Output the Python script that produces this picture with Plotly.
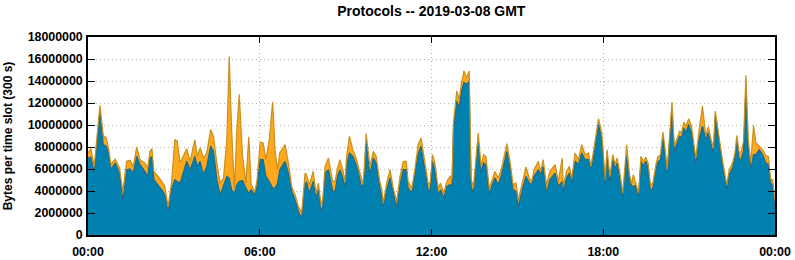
import pandas as pd
import plotly.graph_objects as go

# minutes after 2019-03-08 00:00 GMT
minutes = [0, 6, 13, 25, 32, 38, 43, 48, 57, 66, 73, 81, 88, 95, 102, 109, 119, 125, 130, 134,
           138, 147, 157, 161, 168, 175, 182, 187, 193, 207, 214, 224, 229, 235, 242, 249, 257, 263, 270, 277,
           284, 291, 296, 301, 307, 312, 317, 324, 331, 337, 342, 350, 354, 361, 367, 373, 380, 387, 392, 397,
           402, 413, 420, 427, 434, 441, 448, 455, 458, 464, 472, 478, 483, 488, 492, 497, 504, 513, 518, 523,
           528, 534, 539, 542, 548, 555, 562, 567, 572, 576, 579, 583, 588, 591, 598, 604, 611, 616, 619, 626,
           633, 640, 647, 654, 661, 667, 671, 679, 685, 692, 698, 706, 713, 717, 722, 727, 734, 739, 746, 752,
           759, 763, 766, 773, 778, 783, 788, 794, 799, 803, 808, 813, 818, 824, 829, 834, 841, 846, 853, 860,
           867, 878, 885, 891, 897, 902, 909, 911, 918, 925, 930, 935, 944, 949, 954, 961, 968, 979, 986, 994,
           996, 1003, 1009, 1014, 1021, 1028, 1035, 1042, 1049, 1054, 1059, 1070, 1077, 1084, 1088, 1094, 1100, 1105, 1109, 1115,
           1121, 1129, 1135, 1140, 1143, 1147, 1154, 1159, 1164, 1169, 1174, 1179, 1184, 1191, 1195, 1200, 1205, 1209, 1214, 1220,
           1224, 1229, 1234, 1240, 1244, 1249, 1253, 1259, 1265, 1274, 1281, 1288, 1295, 1300, 1306, 1311, 1315, 1319, 1325, 1332,
           1339, 1344, 1351, 1356, 1360, 1365, 1369, 1374, 1379, 1384, 1389, 1395, 1400, 1407, 1414, 1421, 1426, 1431, 1435, 1440]

# total (top of stack), millions of bytes
total_m = [7.47, 7.86, 6.24, 11.79, 9.05, 8.83, 7.92, 6.40, 6.90, 6.09, 3.96, 6.70, 6.79, 6.24, 8.00, 6.85, 6.55, 6.09, 7.61, 7.86,
           5.78, 5.33, 4.72, 4.42, 2.59, 4.72, 8.68, 8.53, 6.55, 7.83, 6.70, 8.68, 7.15, 7.92, 7.00, 7.46, 9.59, 8.98, 6.55, 4.72,
           5.18, 8.68, 16.23, 9.59, 4.11, 9.59, 12.79, 7.15, 4.72, 8.92, 4.57, 3.96, 4.87, 8.44, 8.37, 6.85, 8.68, 12.12, 7.76, 5.94,
           7.46, 8.22, 6.55, 4.42, 3.65, 2.59, 2.04, 5.63, 5.50, 4.57, 5.78, 3.80, 4.72, 2.89, 3.20, 6.24, 7.00, 4.87, 4.87, 6.09,
           6.85, 5.94, 4.87, 7.15, 8.98, 7.76, 7.00, 6.24, 5.33, 4.57, 5.94, 9.23, 7.30, 6.24, 7.61, 7.15, 5.03, 4.11, 2.89, 4.72,
           5.94, 4.26, 3.04, 5.33, 6.70, 6.70, 4.87, 4.26, 5.94, 8.22, 8.83, 6.55, 4.72, 4.60, 7.30, 6.55, 4.26, 4.72, 3.80, 4.87,
           5.33, 5.10, 10.20, 13.10, 12.33, 13.86, 14.92, 14.31, 14.92, 5.03, 4.42, 6.85, 9.29, 6.24, 7.30, 7.15, 4.26, 4.87, 5.78, 5.18,
           6.09, 8.31, 6.55, 4.57, 4.72, 3.20, 4.72, 4.87, 6.18, 5.18, 4.87, 5.94, 6.70, 5.78, 6.85, 4.57, 5.78, 6.40, 4.87, 7.00,
           4.42, 5.78, 6.24, 5.18, 7.46, 6.85, 8.22, 7.30, 7.46, 6.24, 7.46, 10.57, 9.29, 5.03, 7.76, 5.33, 7.30, 6.40, 7.00, 5.63,
           3.80, 8.22, 5.48, 4.72, 5.48, 4.87, 3.80, 7.15, 6.70, 7.06, 6.55, 4.57, 4.72, 6.55, 7.15, 7.30, 9.35, 8.07, 5.94, 9.59,
           12.09, 8.07, 8.68, 9.44, 9.29, 10.26, 9.90, 10.57, 9.90, 7.00, 9.59, 11.73, 8.98, 9.83, 8.68, 7.92, 11.27, 10.20, 8.22, 6.24,
           4.57, 5.94, 6.55, 7.46, 9.05, 7.46, 7.60, 8.53, 14.53, 8.68, 6.55, 9.96, 8.37, 8.07, 7.76, 7.20, 7.15, 5.03, 5.03, 3.20]

# lower series (blue), millions of bytes
blue_m = [7.00, 7.06, 5.63, 11.10, 8.22, 8.07, 7.46, 5.94, 6.55, 5.63, 3.04, 5.94, 6.00, 5.63, 7.15, 6.40, 5.78, 5.33, 7.00, 7.15,
          5.03, 4.57, 3.96, 3.65, 2.13, 4.17, 5.03, 4.87, 4.72, 6.70, 5.94, 7.15, 6.24, 6.70, 5.48, 6.24, 8.07, 7.61, 5.03, 3.65,
          4.41, 5.33, 5.18, 4.11, 3.80, 4.57, 4.87, 4.95, 4.26, 3.80, 4.11, 3.65, 4.41, 6.85, 6.85, 5.33, 4.87, 4.26, 4.26, 4.65,
          5.94, 6.70, 5.63, 3.96, 3.20, 2.13, 1.52, 4.72, 4.80, 3.80, 4.87, 3.35, 4.11, 2.13, 2.59, 5.63, 5.94, 3.96, 3.96, 5.33,
          5.94, 5.18, 4.26, 6.24, 7.46, 7.15, 6.40, 5.63, 4.57, 4.42, 5.63, 8.53, 6.55, 5.48, 7.00, 6.55, 4.42, 3.50, 2.59, 4.11,
          5.18, 3.80, 2.44, 4.57, 5.94, 5.94, 4.26, 3.80, 5.33, 7.30, 8.07, 6.09, 4.11, 4.00, 6.70, 5.94, 3.65, 4.11, 3.35, 4.42,
          4.57, 4.50, 9.59, 12.18, 11.57, 13.10, 13.86, 13.70, 14.00, 4.42, 3.80, 6.40, 8.37, 5.63, 6.55, 6.40, 3.65, 4.42, 5.18, 4.57,
          5.48, 7.61, 5.94, 4.11, 3.96, 2.59, 4.11, 4.26, 5.33, 4.72, 4.57, 5.33, 5.94, 5.48, 6.24, 3.80, 5.03, 5.63, 4.42, 4.87,
          3.96, 5.18, 5.63, 4.72, 6.70, 6.40, 7.46, 6.85, 6.85, 5.94, 6.85, 10.05, 8.68, 4.57, 7.15, 4.72, 6.85, 5.94, 6.55, 5.18,
          3.50, 7.15, 4.87, 4.42, 4.42, 4.50, 3.50, 6.70, 6.24, 6.70, 6.09, 3.96, 4.26, 6.09, 6.70, 6.85, 8.83, 7.61, 5.63, 8.98,
          11.42, 7.61, 8.22, 8.98, 8.83, 9.74, 9.29, 10.05, 9.29, 6.40, 8.68, 9.90, 8.68, 9.29, 8.22, 7.46, 10.96, 9.74, 7.76, 5.78,
          4.11, 5.48, 6.09, 7.00, 8.53, 6.85, 6.90, 7.61, 12.79, 7.76, 5.94, 7.30, 7.30, 7.76, 7.30, 6.55, 6.40, 4.72, 4.57, 2.28]

y_ticks = [0, 2000000, 4000000, 6000000, 8000000, 10000000, 12000000, 14000000, 16000000, 18000000]
y_tick_labels = [str(v) for v in y_ticks]

start = pd.Timestamp("2019-03-08 00:00:00")
times = [start + pd.Timedelta(minutes=m) for m in minutes]
total = [v * 1e6 for v in total_m]
blue = [v * 1e6 for v in blue_m]

BLUE_FILL = "#0081b0"
BLUE_LINE = "#1a6a8a"
ORANGE_FILL = "#ffa81c"
ORANGE_LINE = "#c8901e"

fig = go.Figure()
fig.add_trace(go.Scatter(x=times, y=blue, mode="lines", fill="tozeroy",
                         fillcolor=BLUE_FILL, line=dict(color=BLUE_LINE, width=1.2),
                         showlegend=False, hoverinfo="skip"))
fig.add_trace(go.Scatter(x=times, y=total, mode="lines", fill="tonexty",
                         fillcolor=ORANGE_FILL, line=dict(color=ORANGE_LINE, width=1.2),
                         showlegend=False, hoverinfo="skip"))

font_family = "Liberation Sans, Arial, sans-serif"
fig.update_layout(
    width=795, height=260,
    margin=dict(l=88, r=20, t=37, b=25),
    paper_bgcolor="white", plot_bgcolor="white",
    title=dict(text="<b>Protocols -- 2019-03-08 GMT</b>", x=0.5425, xanchor="center",
               y=1 - 11 / 260, yanchor="middle",
               font=dict(family=font_family, size=14, color="black")),
    font=dict(family=font_family, size=12, color="black"),
)
fig.update_xaxes(
    type="date", automargin=False,
    range=[start, start + pd.Timedelta(hours=24)],
    dtick=6 * 3600 * 1000, tick0=start, tickformat="%H:%M",
    ticks="inside", ticklen=6, tickcolor="black", tickwidth=1,
    showline=True, linecolor="black", linewidth=1.5, mirror="ticks",
    showgrid=True, gridcolor="#b4b4b4", griddash="1px,3px", gridwidth=1,
    tickfont=dict(family=font_family, size=12.4, color="black", weight="bold"),
    ticklabelstandoff=4, zeroline=False,
)
fig.update_yaxes(
    range=[0, 18000000], automargin=False,
    tickvals=y_ticks, ticktext=y_tick_labels,
    ticks="inside", ticklen=7, tickcolor="black", tickwidth=1,
    showline=True, linecolor="black", linewidth=1.5, mirror="ticks",
    showgrid=True, gridcolor="#b4b4b4", griddash="1px,3px", gridwidth=1,
    tickfont=dict(family=font_family, size=12.4, color="black", weight="bold"),
    ticklabelstandoff=1,
    title=dict(text="<b>Bytes per time slot (300 s)</b>", standoff=12,
               font=dict(family=font_family, size=12, color="black")),
    zeroline=False,
)

fig.write_html("out.html")
